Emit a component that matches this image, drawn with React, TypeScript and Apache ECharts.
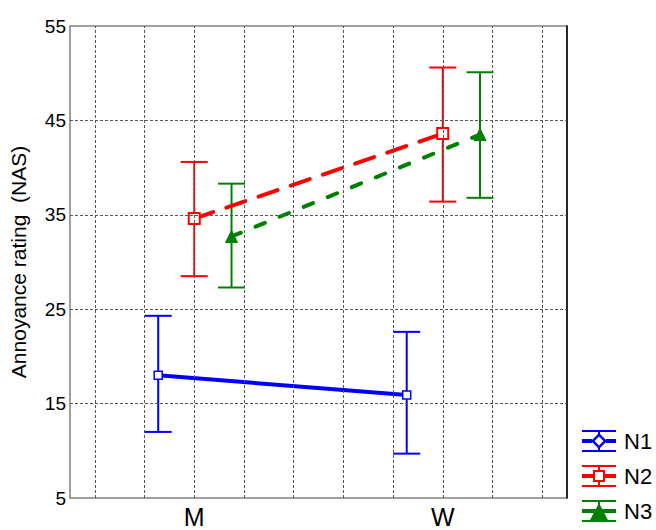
import React, { useEffect, useRef } from "react";
import * as echarts from "echarts";

const categories = ["M", "W"];
const categoryX = [1, 2];
const seriesNames = ["N1", "N2", "N3"];
const seriesOffsets = [-0.145, 0, 0.15];
const meanN1 = [18.0, 15.9];
const lowN1 = [12.0, 9.7];
const highN1 = [24.3, 22.6];
const meanN2 = [34.6, 43.6];
const lowN2 = [28.5, 36.4];
const highN2 = [40.6, 50.6];
const meanN3 = [32.7, 43.5];
const lowN3 = [27.3, 36.8];
const highN3 = [38.3, 50.1];
const yTicks = [5, 15, 25, 35, 45, 55];
const yGrid = [15, 25, 35, 45];
const xGrid = [0.6, 0.8, 1.0, 1.2, 1.4, 1.6, 1.8, 2.0, 2.2, 2.4];

const colors = ["#0000ff", "#ff0000", "#008000"];

const iconN1 =
  "path://M0,0H34V2H0Z M0,20H34V22H0Z M16,2H18V4H16Z M16,18H18V20H16Z M0,9H10V13H0Z M24,9H34V13H24Z M17,3L25,11L17,19L9,11Z M17,6.5L12.5,11L17,15.5L21.5,11Z";
const iconN2 =
  "path://M0,0H34V2H0Z M0,20H34V22H0Z M16,2H18V5H16Z M16,17H18V20H16Z M0,9H11V13H0Z M23,9H34V13H23Z M11,5H23V17H11Z M13,7V15H21V7Z";
const iconN3 =
  "path://M0,0H34V2H0Z M0,20H34V22H0Z M16,2H18V20H16Z M0,9H34V13H0Z M17,3L26,20H8Z";

export default function App() {
  const ref = useRef<HTMLDivElement>(null);

  useEffect(() => {
    if (!ref.current) return;
    const chart = echarts.init(ref.current, null, { renderer: "svg" });

    const means = [meanN1, meanN2, meanN3];
    const lows = [lowN1, lowN2, lowN3];
    const highs = [highN1, highN2, highN3];

    const pts = (s: number) => categoryX.map((x, i) => [x + seriesOffsets[s], means[s][i]]);
    const errData = (s: number) =>
      categoryX.map((x, i) => [x + seriesOffsets[s], lows[s][i], highs[s][i]]);

    const errorSeries = (s: number) => ({
      type: "custom",
      name: seriesNames[s],
      z: 3,
      silent: true,
      data: errData(s),
      renderItem: (_params: any, api: any) => {
        const x = api.value(0);
        const lo = api.coord([x, api.value(1)]);
        const hi = api.coord([x, api.value(2)]);
        const hw = 13.5;
        const style = { stroke: colors[s], lineWidth: 2, fill: "none" };
        return {
          type: "group",
          children: [
            { type: "line", shape: { x1: lo[0], y1: lo[1], x2: hi[0], y2: hi[1] }, style },
            { type: "line", shape: { x1: lo[0] - hw, y1: lo[1], x2: lo[0] + hw, y2: lo[1] }, style },
            { type: "line", shape: { x1: hi[0] - hw, y1: hi[1], x2: hi[0] + hw, y2: hi[1] }, style },
          ],
        };
      },
    });

    const font = "'Liberation Sans', Arial, Helvetica, sans-serif";

    chart.setOption({
      animation: false,
      grid: {
        left: 68,
        top: 26,
        right: 89,
        bottom: 32,
        show: true,
        borderColor: "#808080",
        borderWidth: 1.5,
        backgroundColor: "#ffffff",
      },
      xAxis: {
        type: "value",
        min: 0.5,
        max: 2.5,
        interval: 0.5,
        axisLine: { show: false },
        axisTick: { show: false },
        splitLine: { show: false },
        axisLabel: {
          fontSize: 25,
          lineHeight: 22,
          fontFamily: font,
          color: "#000",
          margin: 8,
          formatter: (v: number) => {
            const idx = categoryX.indexOf(Math.round(v * 1000) / 1000);
            return idx >= 0 ? categories[idx] : "";
          },
        },
      },
      yAxis: [
        {
          type: "value",
          min: 5,
          max: 55,
          interval: 5,
          name: "Annoyance rating  (NAS)",
          nameLocation: "middle",
          nameGap: 41,
          nameTextStyle: { fontSize: 21, fontFamily: font, color: "#000" },
          axisLine: { show: false },
          axisTick: { show: false },
          splitLine: { show: false },
          axisLabel: {
            fontSize: 19,
            fontFamily: font,
            color: "#000",
            margin: 4,
            formatter: (v: number) => (yTicks.indexOf(v) >= 0 ? String(v) : ""),
          },
        },
        {
          type: "value",
          min: 5,
          max: 55,
          interval: 5,
          position: "right",
          axisLine: { show: true, lineStyle: { color: "#000", width: 1.5 } },
          axisTick: { show: false },
          splitLine: { show: false },
          axisLabel: { show: false },
        },
      ],
      legend: {
        orient: "vertical",
        left: 582,
        top: 430,
        padding: 0,
        itemWidth: 34,
        itemHeight: 22,
        itemGap: 13,
        textStyle: {
          fontSize: 22,
          lineHeight: 22,
          fontFamily: font,
          color: "#000",
          padding: [0, 0, 0, 3],
        },
        data: [
          { name: "N1", icon: iconN1, itemStyle: { color: colors[0], borderWidth: 0 } },
          { name: "N2", icon: iconN2, itemStyle: { color: colors[1], borderWidth: 0 } },
          { name: "N3", icon: iconN3, itemStyle: { color: colors[2], borderWidth: 0 } },
        ],
      },
      series: [
        {
          type: "line",
          name: "grid",
          data: [],
          z: 1,
          silent: true,
          symbol: "none",
          markLine: {
            silent: true,
            symbol: "none",
            label: { show: false },
            lineStyle: { color: "#555", width: 1, type: [3, 2] },
            data: [
              ...xGrid.map((x) => ({ xAxis: x })),
              ...yGrid.map((y) => ({ yAxis: y })),
            ],
          },
        },
        errorSeries(0),
        errorSeries(1),
        errorSeries(2),
        {
          type: "line",
          name: "N1",
          z: 4,
          data: pts(0),
          symbol: "rect",
          symbolSize: 8,
          lineStyle: { color: colors[0], width: 4 },
          itemStyle: { color: "#ffffff", borderColor: colors[0], borderWidth: 1.5 },
        },
        {
          type: "line",
          name: "N2",
          z: 4,
          data: pts(1),
          symbol: "rect",
          symbolSize: 11,
          lineStyle: { color: colors[1], width: 4, type: [20, 14], cap: "round" },
          itemStyle: { color: "#ffffff", borderColor: colors[1], borderWidth: 2 },
        },
        {
          type: "line",
          name: "N3",
          z: 4,
          data: pts(2),
          symbol: "triangle",
          symbolSize: 12,
          lineStyle: { color: colors[2], width: 4, type: [10, 16], cap: "round" },
          itemStyle: { color: colors[2], borderColor: colors[2], borderWidth: 1 },
        },
      ],
    });

    return () => chart.dispose();
  }, []);

  return <div ref={ref} style={{ width: 656, height: 530, position: "absolute", left: 0, top: 0 }} />;
}
